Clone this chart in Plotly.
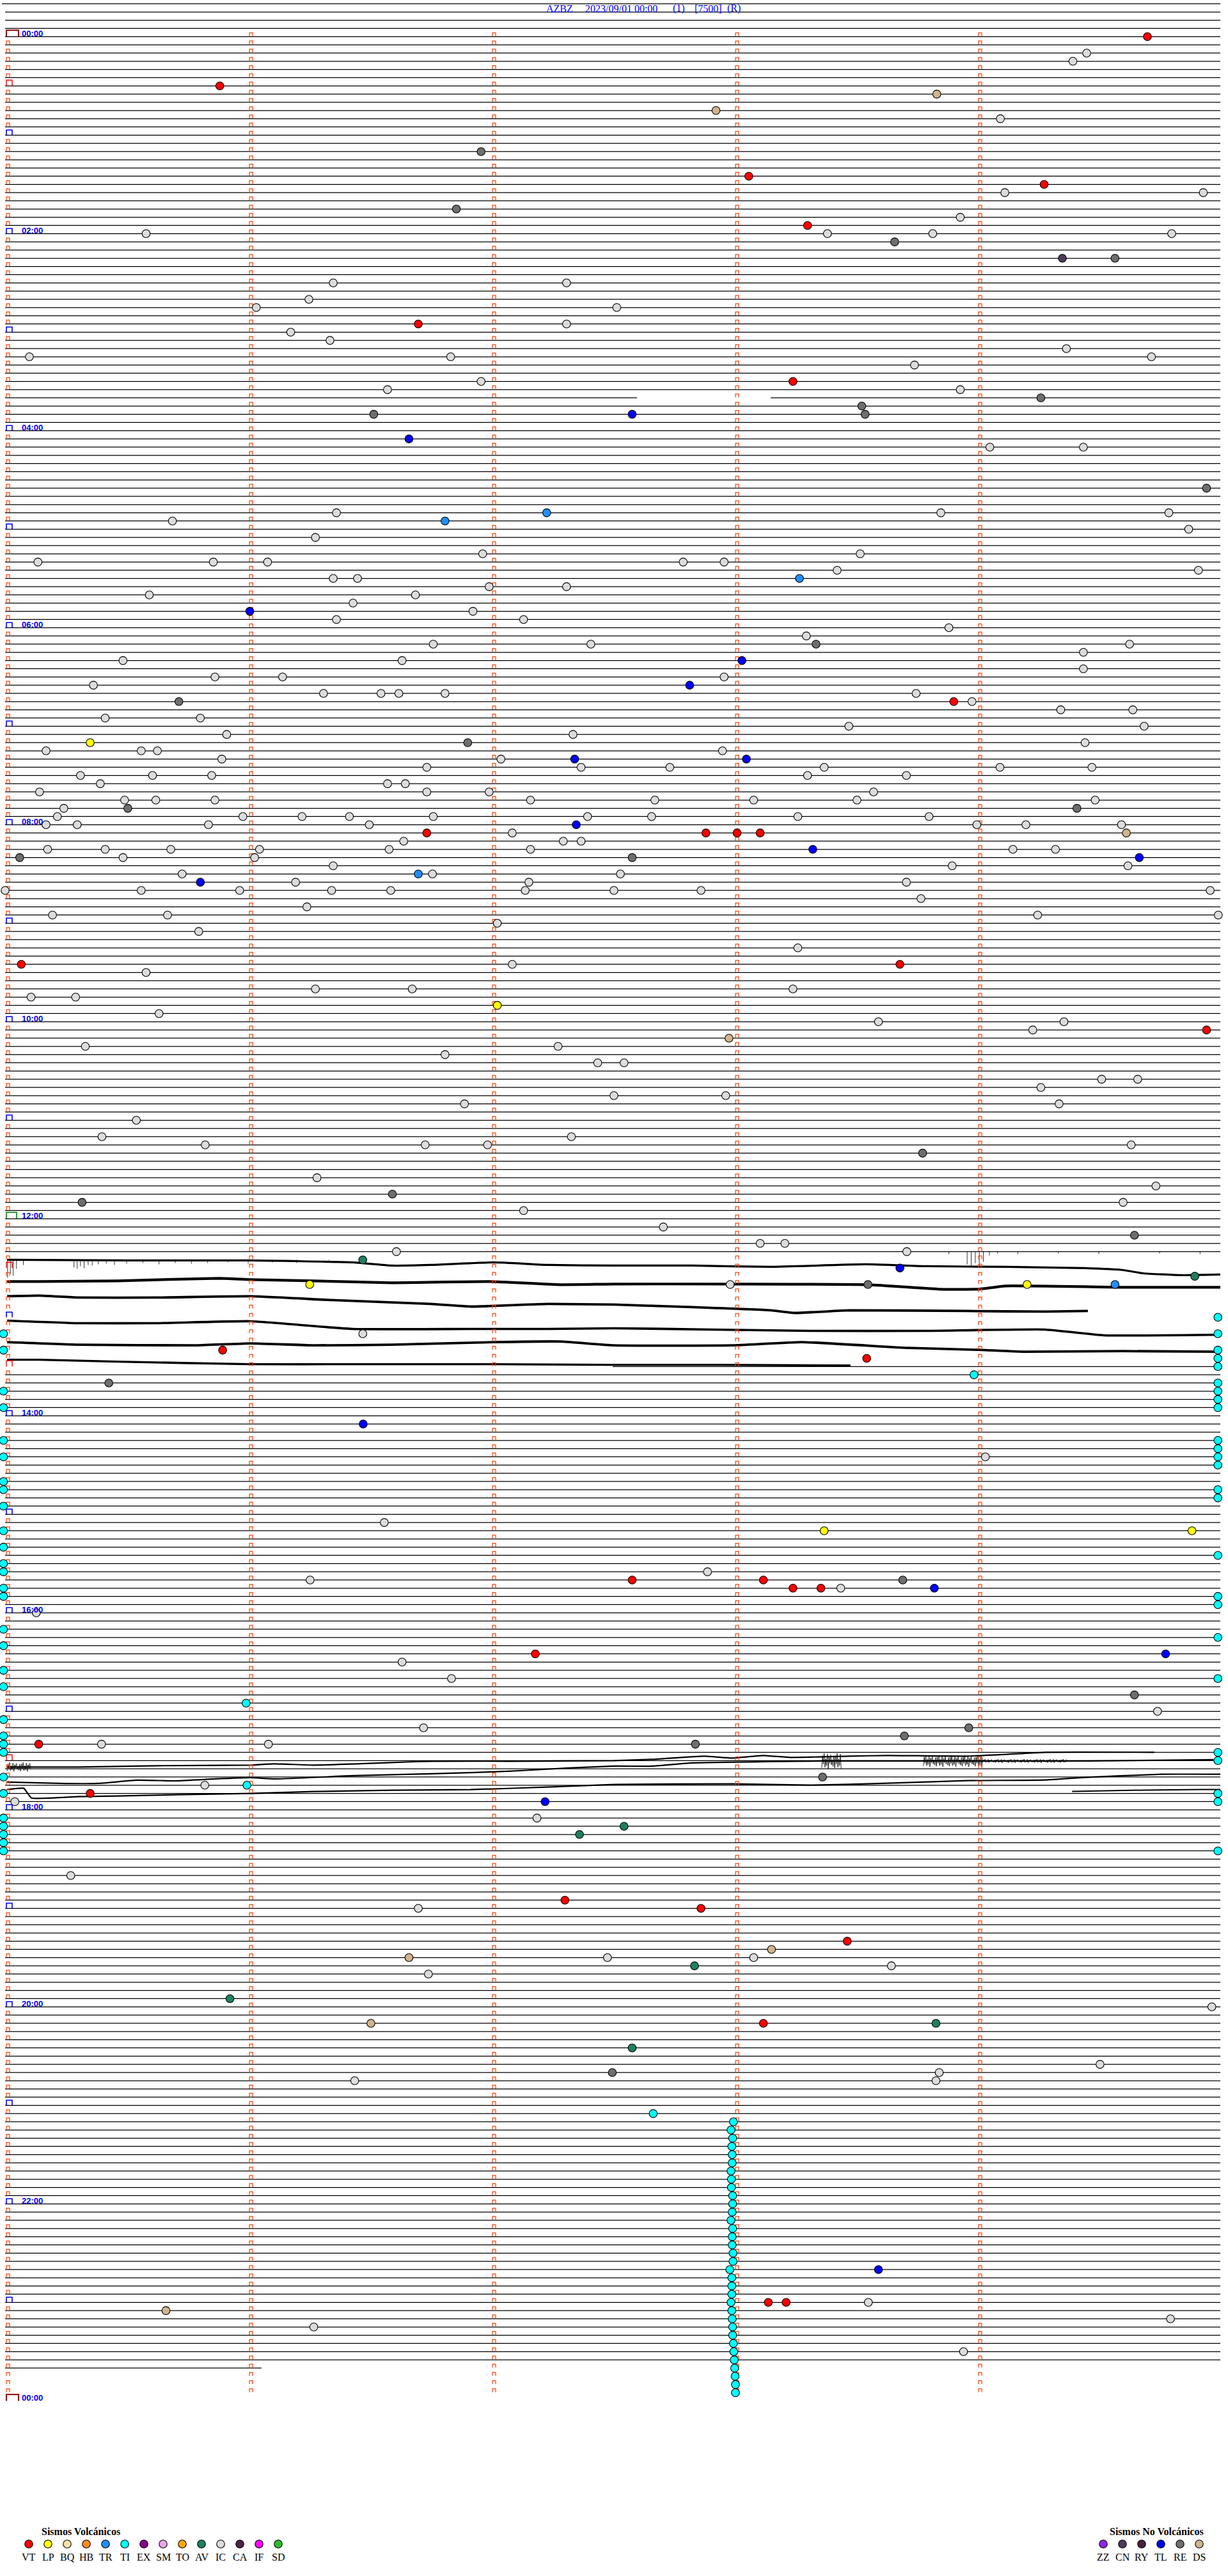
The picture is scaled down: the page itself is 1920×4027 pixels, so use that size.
import plotly.graph_objects as go

# ------------------------------------------------------------------ data
TITLE_PARTS = ["AZBZ", "2023/09/01 00:00", "(1)", "[7500]", "(R)"]
LINE_SECONDS = 300                 # each helicorder line = 5 minutes
ROWS_PER_DAY = 288
FIRST_ROW, LAST_ROW = -4, 284      # rows that carry a trace line
LAST_ROW_END_SEC = 63.3            # data stops at 23:41:03
MINUTE_TICKS = [0, 1, 2, 3, 4]

# rows where the signal was large (drawn as waveforms instead of flat lines)
WAVE_ROWS_NO_FLAT = list(range(149, 162))
PARTIAL_ROWS = [(162, 150, 300), (-4, -0.8, 300)]
GAPS = [(44, 156, 189)]
RED_FLAG_ROWS = [6, 150, 162, 210]

# waveform traces: base row, sample seconds, amplitude (px of deflection)
WAVE_A_ROW = 149
WAVE_A_SEC = [0.5, 30.3, 60.6, 85.7, 95.4, 105.1, 120.6, 134.0, 150.3, 169.6, 189.0, 212.2, 227.7, 246.9, 266.4, 276.0, 280.9, 290.5, 300]
WAVE_A_AMP = [0, 1, 1, 4, 9, 8, 4, 8, 9, 9, 11, 7, 10, 11, 13, 16, 21, 24, 23]
WAVE_B_ROW = 150
WAVE_B_SEC = [0.5, 8.4, 27.8, 52.9, 60.6, 76.1, 95.4, 119.5, 137.0, 150.3, 179.2, 213.2, 230.5, 240.3, 246.9, 276.0, 300]
WAVE_B_AMP = [21, 21, 20, 16, 18, 20, 23, 21, 26, 25, 25, 26, 33, 33, 28, 30, 30]
WAVE_C_ROW = 152
WAVE_C_SEC = [0.5, 8.4, 18.0, 37.4, 60.6, 80.8, 105.1, 114.8, 134.0, 150.3, 169.6, 189.0, 194.8, 208.3, 237.3, 256.7, 267.3]
WAVE_C_AMP = [18.5, 17.5, 20.5, 20.5, 18.5, 24.5, 30.5, 34.5, 30.5, 31.5, 35.5, 40.5, 44.5, 40.5, 41.5, 42.5, 41.5]
WAVE_D_ROW = 155
WAVE_D_SEC = [0.5, 18.0, 37.4, 60.6, 85.7, 114.8, 134.0, 150.3, 174.5, 198.6, 227.7, 256.7, 271.3, 300]
WAVE_D_AMP = [18, 22, 22, 19, 31, 31, 31, 30, 32, 34, 34, 32, 41, 40]
WAVE_E_ROW = 157
WAVE_E_SEC = [0.5, 18.0, 47.1, 60.6, 76.1, 95.4, 120.6, 137.0, 150.3, 179.4, 196.7, 222.8, 240.3, 251.8, 276.0, 300]
WAVE_E_AMP = [26, 30, 31, 28, 31, 30, 26, 25, 31, 31, 26, 35, 38, 41, 40, 41]
WAVE_F_ROW = 160
WAVE_F_SEC = [0.5, 8.4, 27.8, 60.6, 85.7, 120.6, 150.3, 169.6, 176.4, 208.7]
WAVE_F_AMP = [15, 15, 18, 22, 22, 22, 23, 23, 23, 24]

WAVE_P_ROW = 210
WAVE_P_SEC = [0.5, 18.0, 37.4, 60.6, 66.5, 76.1, 95.4, 105.1, 124.4, 150.3, 159.9, 172.6, 179.4, 187.1, 193.9, 208.3, 218.0, 237.3, 250.9, 256.7, 283.7]
WAVE_P_AMP = [10, 10, 8, 7, 5, 7, 3, 1, 1, 0, -2, -7, -4, -8, -5, -7, -8, -7, -11, -13, -13]
WAVE_Q_ROW = 212
WAVE_Q_SEC = [0.5, 13.3, 22.9, 32.5, 42.3, 51.9, 60.6, 66.5, 85.7, 105.1, 124.4, 138.9, 150.3, 159.9, 169.6, 188.2, 201.6, 235.6, 267.2, 298.3]
WAVE_Q_AMP = [8, 10, 10, 5, 6, 3, 1, 3, -2, -5, -9, -14, -17, -17, -22, -24, -25, -25, -25, -27]
WAVE_R_ROW = 214
WAVE_R_SEC = [0.5, 4.6, 6.5, 18.0, 27.8, 42.3, 60.6, 76.1, 95.4, 114.8, 134.0, 150.3, 179.4, 198.6, 218.0, 237.3, 256.7, 266.4, 285.6, 300]
WAVE_R_AMP = [-6, -8, 7, 5, 4, 2, 0, -3, -5, -6, -10, -14, -15, -13, -16, -20, -21, -25, -30, -30]
WAVE_S_ROW = 215
WAVE_S_SEC = [263.4, 280.9, 295.2, 300]
WAVE_S_AMP = [-16, -18, -19, -19]

# noisy bursts: row, start s, end s, centre deflection px, half amplitude px
BURSTS = [(210, 0.5, 6.3, 10, 7), (212, 201.6, 206.4, -25, 12),
          (212, 226.7, 241.3, -25, 9), (212, 241.3, 262.0, -25, 3)]
NOISE_PATTERN = [0.9, -0.7, 0.4, -1.0, 0.8, -0.3, 0.6, -0.9, 1.0, -0.5, 0.3, -0.8,
                 0.5, -0.2, 0.7, -0.6]
# downward spikes (row, second, depth px)
SPIKES = [(149, 0.6, 28), (149, 1.3, 22), (149, 2.0, 25), (149, 2.8, 14), (149, 4.5, 8),
          (149, 17.0, 12), (149, 17.8, 14), (149, 18.6, 10), (149, 19.5, 13), (149, 20.5, 8),
          (149, 21.5, 9), (149, 23.0, 7), (149, 25.0, 6), (149, 27.0, 8), (149, 30.0, 6),
          (149, 34.0, 5), (149, 38.0, 7), (149, 42.0, 5), (149, 46.0, 6), (149, 50.0, 5),
          (149, 55.0, 4), (149, 60.0, 6), (149, 66.0, 4), (149, 72.0, 5), (149, 80.0, 4),
          (148, 233.0, 4), (148, 237.5, 20), (148, 238.5, 24), (148, 239.5, 18), (148, 240.5, 22),
          (148, 241.5, 16), (148, 243.0, 6), (148, 245.0, 3), (148, 250.0, 4), (148, 260.0, 3),
          (148, 270.0, 4), (148, 285.0, 3), (148, 295.0, 4)]

VOLC_CODES = ["VT", "LP", "BQ", "HB", "TR", "TI", "EX", "SM", "TO", "AV", "IC", "CA", "IF", "SD"]
VOLC_COLORS = ["#FF0000", "#FFFF00", "#F3E3A6", "#FF8A1C", "#1E8FFF", "#00FFFF", "#8B008B",
               "#E8A6E8", "#FFA500", "#1F7F62", "#DCDCDC", "#4A2545", "#FF00FF", "#2DBE2D"]
NONVOLC_CODES = ["ZZ", "CN", "RY", "TL", "RE", "DS"]
NONVOLC_COLORS = ["#8A2BE2", "#4E3A5C", "#4A2040", "#0000FF", "#6E6E6E", "#D2B48C"]

# events (row of 5-minute line, seconds into the line)
EV_VT = [(0, 282), (6, 53), (17, 183.6), (18, 256.5), (23, 198.1), (35, 102), (42, 194.5),
         (81, 234.2), (97, 104.1), (97, 173), (97, 180.7), (97, 186.4), (113, 4), (113, 220.9),
         (121, 296.6), (160, 53.7), (161, 212.7), (188, 154.8), (188, 187.2), (189, 194.5),
         (189, 201.4), (197, 130.9), (208, 8.3), (214, 21), (227, 138.2), (228, 171.8),
         (232, 207.9), (242, 187.2), (276, 188.4), (276, 192.8)]
EV_LP = [(86, 21), (118, 121.5), (152, 75.2), (152, 252.3), (182, 202.2), (182, 293)]
EV_TR = [(58, 133.7), (59, 108.6), (66, 196.1), (102, 102), (152, 274)]
EV_AV = [(149, 88.3), (151, 293.7), (219, 141.8), (218, 152.8), (235, 170.2), (239, 55.5),
         (242, 229.8), (245, 154.8)]
EV_TI = [(163, 239.2), (203, 59.5), (213, 59.7), (253, 160)]
TI_COLUMN_FIRST_ROW = 254
TI_COLUMN_SEC = [179.8, 179.2, 179.6, 179.4, 179.5, 179.5, 179.2, 179.3, 179.3, 179.6, 179.6,
                 179.5, 179.2, 179.6, 179.5, 179.5, 179.7, 179.7, 178.9, 179.4, 179.4, 179.4,
                 179.2, 179.4, 179.5, 179.6, 179.6, 179.8, 179.9, 180.0, 180.1, 180.2, 180.3, 180.3]
TI_LEFT_SEC, TI_RIGHT_SEC = -0.4, 299.4
TI_LEFT_ROWS = [158, 160, 165, 167, 171, 173, 176, 177, 179, 182, 184, 186, 187, 189, 190, 194,
                196, 199, 201, 205, 207, 208, 209, 212, 214, 217, 218, 219, 220, 221]
TI_RIGHT_ROWS = [156, 158, 160, 161, 162, 164, 165, 166, 167, 171, 172, 173, 174, 177, 178, 185,
                 190, 191, 195, 200, 209, 210, 214, 215, 221]
EV_TL = [(46, 154.8), (49, 99.7), (70, 60.4), (76, 181.9), (79, 169), (88, 140.6), (88, 183),
         (96, 141), (99, 199.4), (100, 280), (103, 48.2), (150, 220.9), (169, 88.4), (189, 229.4),
         (197, 286.5), (215, 133.3), (272, 215.6)]
EV_RE = [(14, 117.5), (21, 111.4), (25, 219.6), (27, 274), (44, 255.7), (45, 211.5), (46, 212.3),
         (46, 91), (55, 296.6), (74, 200.2), (81, 42.9), (86, 114.2), (94, 30.3), (94, 264.6),
         (100, 3.6), (100, 154.8), (136, 226.5), (141, 95.6), (142, 19), (146, 278.8), (152, 213),
         (164, 25.6), (188, 221.6), (202, 278.8), (206, 237.9), (207, 222), (208, 170.4),
         (212, 201.8), (248, 149.9)]
EV_CN = [(27, 261)]
EV_DS = [(7, 230), (9, 175.5), (97, 276.8), (122, 178.7), (233, 189.2), (234, 99.7), (242, 90.3),
         (277, 39.7)]
EV_IC = [(2, 267), (3, 263.6), (10, 245.7), (19, 246.8), (19, 295.8), (22, 235.8), (24, 34.8),
         (24, 203), (24, 229), (24, 288), (30, 81), (30, 138.6), (32, 75), (33, 62), (33, 151),
         (35, 138.6), (36, 70.5), (37, 80.2), (38, 262), (39, 6), (39, 110), (39, 283), (40, 224.5),
         (42, 117.5), (43, 94.4), (43, 235.8), (50, 243.1), (50, 266.2), (58, 81.8), (58, 231),
         (58, 287.3), (59, 41.3), (60, 292.2), (61, 76.6), (63, 117.9), (63, 211.1), (64, 8.1),
         (64, 51.4), (64, 64.8), (64, 167.4), (64, 177.5), (65, 205.4), (65, 294.6), (66, 81),
         (66, 87), (67, 119.5), (67, 138.6), (68, 35.6), (68, 101.3), (69, 85.9), (70, 115.5),
         (71, 81.8), (71, 128), (72, 233), (73, 197.8), (74, 105.7), (74, 144.6), (74, 277.6),
         (75, 266.2), (76, 29.1), (76, 98), (77, 266.2), (78, 51.8), (78, 68.5), (78, 177.5),
         (79, 21.8), (80, 78.6), (80, 92.8), (80, 97.2), (80, 108.6), (80, 224.9), (81, 238.7),
         (82, 260.6), (82, 278.4), (83, 24.7), (83, 48.2), (84, 208.3), (84, 281.2), (85, 54.7),
         (85, 140.2), (86, 266.6), (87, 10.1), (87, 33.6), (87, 37.6), (87, 177.1), (88, 53.5),
         (88, 122.4), (89, 104.1), (89, 142.2), (89, 164.1), (89, 202.2), (89, 245.6), (89, 268.3),
         (90, 18.6), (90, 36.4), (90, 51), (90, 198.1), (90, 222.5), (91, 23.5), (91, 94.4),
         (91, 98.8), (92, 8.5), (92, 104.1), (92, 119.5), (92, 214.4), (93, 29.5), (93, 37.2),
         (93, 51.8), (93, 129.7), (93, 160.4), (93, 184.8), (93, 210.3), (93, 269.1), (94, 14.5),
         (95, 12.9), (95, 58.7), (95, 73.3), (95, 85), (95, 105.7), (95, 143.8), (95, 159.6),
         (95, 195.7), (95, 228.1), (96, 10.1), (96, 17.8), (96, 50.2), (96, 89.9), (96, 239.9),
         (96, 252), (96, 275.6), (97, 125.2), (98, 98.4), (98, 137.8), (98, 142.2), (99, 10.5),
         (99, 24.7), (99, 40.9), (99, 62.8), (99, 94.8), (99, 129.7), (99, 248.8), (99, 259.3),
         (100, 29.1), (100, 61.6), (101, 81), (101, 233.8), (101, 277.2), (102, 43.7), (102, 105.5),
         (102, 151.9), (103, 71.7), (103, 129.3), (103, 222.5), (104, 0), (104, 33.6), (104, 57.9),
         (104, 80.6), (104, 95.2), (104, 128.4), (104, 150.3), (104, 171.8), (104, 297.5),
         (105, 226.1), (106, 74.5), (107, 11.7), (107, 40.1), (107, 254.9), (107, 299.5),
         (108, 121.5), (109, 47.8), (111, 195.7), (113, 125.2), (114, 34.8), (116, 76.6),
         (116, 100.5), (116, 194.5), (117, 6.4), (117, 17.4), (119, 38), (120, 215.6), (120, 261.4),
         (121, 253.7), (123, 19.8), (123, 136.5), (124, 108.6), (125, 146.3), (125, 152.8),
         (127, 270.7), (127, 279.6), (128, 255.7), (129, 150.3), (129, 177.9), (130, 113.4),
         (130, 260.2), (132, 32.4), (134, 23.9), (134, 139.8), (135, 49.4), (135, 103.7),
         (135, 119.1), (135, 278), (139, 77), (140, 284.1), (142, 276), (143, 128), (145, 162.5),
         (147, 186.4), (147, 192.5), (148, 96.6), (148, 222.6), (152, 179), (158, 88.3), (173, 242),
         (181, 93.6), (187, 173.4), (188, 75.3), (189, 206.3), (192, 7.7), (198, 98), (200, 110.2),
         (204, 284.5), (206, 103.3), (208, 23.8), (208, 65), (213, 49.3), (215, 2.4), (217, 131.3),
         (224, 16.2), (228, 102), (234, 148.7), (234, 184.8), (235, 218.8), (236, 104.5),
         (240, 297.9), (247, 270.3), (248, 230.6), (249, 86.3), (249, 229.8), (276, 213.1),
         (278, 287.7), (279, 76.2), (282, 236.6)]

# ------------------------------------------------------------------ geometry helpers
W, H = 1920, 4027
X_ZERO_PX, X_END_PX = 8, 1908
ROW0_PX = 57.3
ROW_STEP = 3696 / ROWS_PER_DAY
SEC_PER_PX = LINE_SECONDS / (X_END_PX - X_ZERO_PX)


def sx(px):
    return (px - X_ZERO_PX) * SEC_PER_PX


def ry(py):
    return (py - ROW0_PX) / ROW_STEP


def px_rows(p):
    return p / ROW_STEP


fig = go.Figure()

# ---------------- flat trace lines
lx, ly = [], []
partial = {r: (a, b) for r, a, b in PARTIAL_ROWS}
partial[LAST_ROW] = (0, LAST_ROW_END_SEC)
for r in range(FIRST_ROW, LAST_ROW + 1):
    if r in WAVE_ROWS_NO_FLAT:
        continue
    segs = [partial.get(r, (0, LINE_SECONDS))]
    for gr, g0, g1 in GAPS:
        if gr == r:
            new = []
            for a, b in segs:
                if g0 > a:
                    new.append((a, min(b, g0)))
                if g1 < b:
                    new.append((max(a, g1), b))
            segs = new
    for a, b in segs:
        lx += [a, b, None]
        ly += [r, r, None]
fig.add_trace(go.Scatter(x=lx, y=ly, mode="lines", line=dict(color="black", width=1.25),
                         hoverinfo="skip"))

# ---------------- waveforms
waves = [
    (WAVE_A_ROW, WAVE_A_SEC, WAVE_A_AMP, 3.2), (WAVE_B_ROW, WAVE_B_SEC, WAVE_B_AMP, 4.2),
    (WAVE_C_ROW, WAVE_C_SEC, WAVE_C_AMP, 3.8), (WAVE_D_ROW, WAVE_D_SEC, WAVE_D_AMP, 3.6),
    (WAVE_E_ROW, WAVE_E_SEC, WAVE_E_AMP, 3.8), (WAVE_F_ROW, WAVE_F_SEC, WAVE_F_AMP, 3.4),
    (WAVE_P_ROW, WAVE_P_SEC, WAVE_P_AMP, 2.2), (WAVE_Q_ROW, WAVE_Q_SEC, WAVE_Q_AMP, 2.2),
    (WAVE_R_ROW, WAVE_R_SEC, WAVE_R_AMP, 2.2), (WAVE_S_ROW, WAVE_S_SEC, WAVE_S_AMP, 2.0),
]
for row, secs, amps, lw in waves:
    fig.add_trace(go.Scatter(x=secs, y=[row + px_rows(a) for a in amps], mode="lines",
                             line=dict(color="black", width=lw, shape="spline", smoothing=0.4),
                             hoverinfo="skip"))

bx, by = [], []
for row, s0, s1, centre, amp in BURSTS:
    n = int((s1 - s0) / 0.2)
    for i in range(n + 1):
        bx.append(s0 + i * (s1 - s0) / n)
        by.append(row + px_rows(centre + amp * NOISE_PATTERN[i % len(NOISE_PATTERN)]))
    bx.append(None)
    by.append(None)
for row, s, depth in SPIKES:
    bx += [s, s, None]
    by += [row, row + px_rows(depth), None]
fig.add_trace(go.Scatter(x=bx, y=by, mode="lines", line=dict(color="black", width=0.8),
                         hoverinfo="skip"))

# ---------------- minute tick markers (small open-bottom boxes)
mw = 5 * SEC_PER_PX
mh = px_rows(6)
moff = 2 * SEC_PER_PX
tx, ty = [], []
for r in range(0, ROWS_PER_DAY):
    for m in MINUTE_TICKS:
        if m == 0 and (r % 12 == 0 or r in RED_FLAG_ROWS):
            continue
        x0 = m * 60 + moff
        x1 = x0 + mw
        yb = r - px_rows(0.6)
        yt = r - mh
        tx += [x0, x0, x1, x1, None]
        ty += [yb, yt, yt, yb, None]
fig.add_trace(go.Scatter(x=tx, y=ty, mode="lines", line=dict(color="#FF4000", width=1.2),
                         hoverinfo="skip"))

# red flags
fx, fy = [], []
for r in RED_FLAG_ROWS:
    x0, x1 = sx(10), sx(19)
    fx += [x0, x0, x1, x1, None]
    fy += [r, r - px_rows(9), r - px_rows(9), r, None]
fig.add_trace(go.Scatter(x=fx, y=fy, mode="lines", line=dict(color="#FF0000", width=1.4),
                         hoverinfo="skip"))

# hour brackets and labels
annotations = []
for r in range(0, ROWS_PER_DAY + 1, 12):
    if r % ROWS_PER_DAY == 0:
        col, wpx, hpx, lw = "#8B0000", 19, 10, 2
    elif r == ROWS_PER_DAY // 2:
        col, wpx, hpx, lw = "#008000", 16, 10, 1.6
    else:
        col, wpx, hpx, lw = "#0000FF", 9, 8, 1.6
    x0, x1 = sx(10), sx(10 + wpx)
    fig.add_trace(go.Scatter(x=[x0, x0, x1, x1], y=[r, r - px_rows(hpx), r - px_rows(hpx), r],
                             mode="lines", line=dict(color=col, width=lw), hoverinfo="skip"))
    if r % 24 == 0:
        hh = (r // 12) % 24
        annotations.append(dict(x=sx(32), y=r - px_rows(5), xref="x", yref="y",
                                text="<b>%02d:00</b>" % hh, showarrow=False,
                                xanchor="left", yanchor="middle",
                                font=dict(family="Liberation Sans, Arial", size=13, color="#0000FF")))

# ---------------- events
type_color = dict(zip(VOLC_CODES + NONVOLC_CODES, VOLC_COLORS + NONVOLC_COLORS))
ti_events = list(EV_TI)
ti_events += [(TI_COLUMN_FIRST_ROW + i, s) for i, s in enumerate(TI_COLUMN_SEC)]
ti_events += [(r, TI_LEFT_SEC) for r in TI_LEFT_ROWS]
ti_events += [(r, TI_RIGHT_SEC) for r in TI_RIGHT_ROWS]
groups = [("IC", EV_IC), ("RE", EV_RE), ("DS", EV_DS), ("CN", EV_CN), ("TL", EV_TL),
          ("TR", EV_TR), ("AV", EV_AV), ("LP", EV_LP), ("TI", ti_events), ("VT", EV_VT)]
for code, evs in groups:
    fig.add_trace(go.Scatter(x=[s for r, s in evs], y=[r for r, s in evs], mode="markers",
                             marker=dict(size=12.5, color=type_color[code],
                                         line=dict(color="black", width=1.1)),
                             hoverinfo="skip"))

# ---------------- title
title_left_px = [852, 913, 1050, 1084, 1135]
for txt, lp in zip(TITLE_PARTS, title_left_px):
    annotations.append(dict(x=sx(lp), y=ry(13), xref="x", yref="y", text=txt, showarrow=False,
                            xanchor="left", yanchor="middle",
                            font=dict(family="Liberation Serif, Times New Roman", size=16,
                                      color="#0000FF")))

# ---------------- legends
def legend_block(codes, colors, first_px, title, title_px):
    fig.add_trace(go.Scatter(x=[sx(first_px + 30 * i) for i in range(len(codes))],
                             y=[ry(3977)] * len(codes), mode="markers",
                             marker=dict(size=12.5, color=colors, line=dict(color="black", width=1.1)),
                             hoverinfo="skip"))
    for i, c in enumerate(codes):
        annotations.append(dict(x=sx(first_px + 30 * i), y=ry(3997), xref="x", yref="y", text=c,
                                showarrow=False, xanchor="center", yanchor="middle",
                                font=dict(family="Liberation Serif, Times New Roman", size=16,
                                          color="black")))
    annotations.append(dict(x=sx(title_px), y=ry(3957), xref="x", yref="y",
                            text="<b>%s</b>" % title, showarrow=False, xanchor="left",
                            yanchor="middle",
                            font=dict(family="Liberation Serif, Times New Roman", size=16,
                                      color="black")))


legend_block(VOLC_CODES, VOLC_COLORS, 45, "Sismos Volcánicos", 63)
legend_block(NONVOLC_CODES, NONVOLC_COLORS, 1725, "Sismos No Volcánicos", 1733)

fig.update_layout(
    width=W, height=H, margin=dict(l=0, r=0, t=0, b=0, pad=0),
    paper_bgcolor="white", plot_bgcolor="white", showlegend=False, hovermode=False,
    xaxis=dict(range=[sx(0), sx(W)], visible=False, fixedrange=True),
    yaxis=dict(range=[ry(H), ry(0)], visible=False, fixedrange=True),
    annotations=annotations,
)
fig.write_html("out.html", config={"displayModeBar": False},
               post_script="document.body.style.margin='0';")
